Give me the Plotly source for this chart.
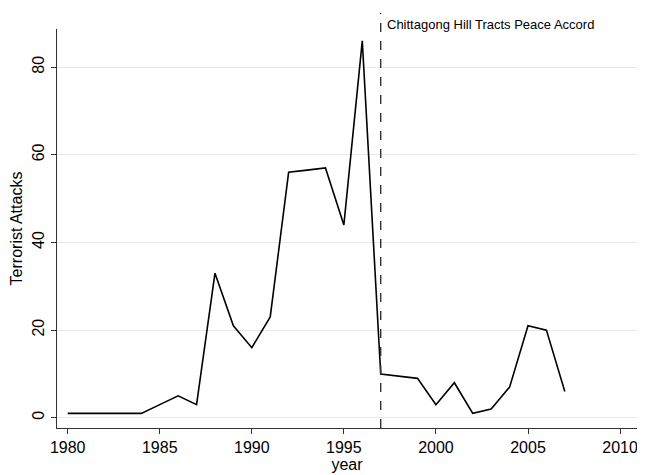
import plotly.graph_objects as go

years = [1980, 1981, 1982, 1983, 1984, 1985, 1986, 1987, 1988, 1989, 1990, 1991, 1992, 1993,
         1994, 1995, 1996, 1997, 1998, 1999, 2000, 2001, 2002, 2003, 2004, 2005, 2006, 2007]
attacks = [1, 1, 1, 1, 1, 3, 5, 3, 33, 21, 16, 23, 56, 56.5,
           57, 44, 86, 10, 9.5, 9, 3, 8, 1, 2, 7, 21, 20, 6]

accord_year = 1997
accord_label = 'Chittagong Hill Tracts Peace Accord'

font_family = 'Liberation Sans, Arial, Helvetica, sans-serif'

fig = go.Figure()
fig.add_trace(
    go.Scatter(
        x=years,
        y=attacks,
        mode='lines',
        line=dict(color='black', width=1.6),
        showlegend=False,
    )
)

fig.add_shape(
    type='line',
    xref='x', yref='paper',
    x0=accord_year, x1=accord_year,
    y0=0, y1=1.04,
    line=dict(color='#333333', width=1.4, dash='dash'),
)
fig.add_annotation(
    x=accord_year, xref='x',
    y=1.0125, yref='paper',
    text=accord_label,
    showarrow=False,
    xanchor='left', yanchor='middle',
    xshift=4,
    font=dict(size=13, color='black', family=font_family),
)

# page body adds an 8px offset, so the figure is drawn 8px smaller
fig.update_layout(
    width=637,
    height=467,
    paper_bgcolor='white',
    plot_bgcolor='white',
    margin=dict(l=49, r=8, t=21, b=47),
    font=dict(family=font_family, color='black'),
    xaxis=dict(
        range=[1979.42, 2010.92],
        tickvals=[1980, 1985, 1990, 1995, 2000, 2005, 2010],
        ticks='outside', ticklen=5, tickcolor='#333333',
        showline=True, linecolor='#333333', linewidth=1.3,
        showgrid=False, zeroline=False,
        tickfont=dict(size=16),
        automargin=False,
        title=dict(text='year', font=dict(size=16), standoff=2),
    ),
    yaxis=dict(
        range=[-2.33, 88.7],
        tickvals=[0, 20, 40, 60, 80],
        tickangle=-90,
        ticks='outside', ticklen=5, tickcolor='#333333',
        showline=True, linecolor='#333333', linewidth=1.3,
        showgrid=True, gridcolor='#e8e8e8', gridwidth=1,
        zeroline=False,
        tickfont=dict(size=16),
        automargin=False,
        title=dict(text='Terrorist Attacks', font=dict(size=16), standoff=4),
    ),
)

fig.write_html('out.html')
